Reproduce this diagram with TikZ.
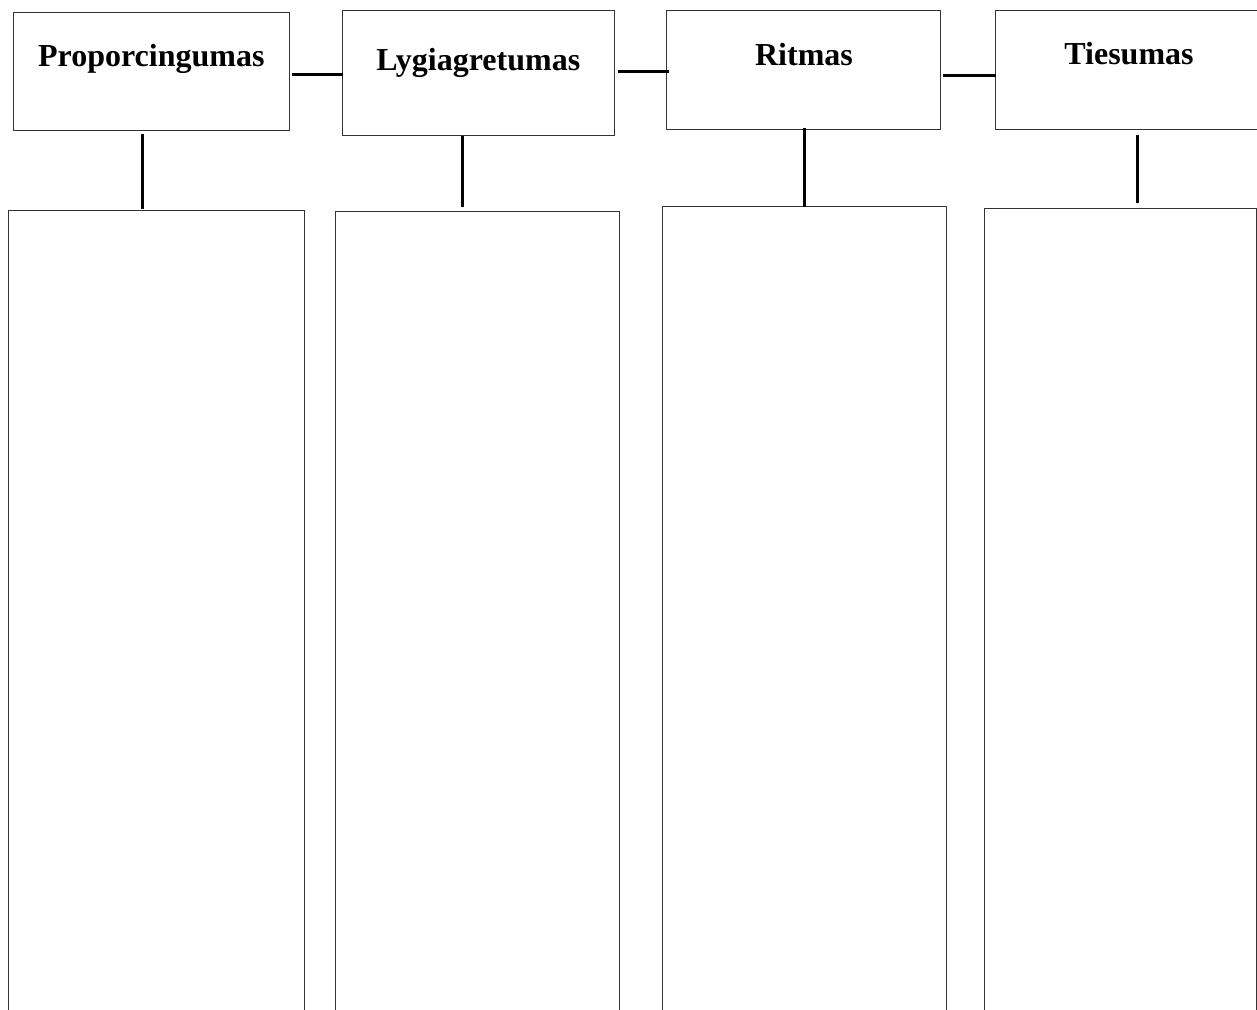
\documentclass[tikz,border=0pt]{standalone}
\usepackage{fontspec}
\setmainfont{Liberation Serif}
\begin{document}
\begin{tikzpicture}[x=1pt, y=-1pt,
  panel/.style={draw=black!80, line width=1pt, inner sep=0pt, outer sep=0pt, fill=white},
  title/.style={anchor=base, inner sep=0pt, font=\fontsize{32}{38}\selectfont\bfseries},
  link/.style={draw=black, line width=3pt}]
  \useasboundingbox (0,0) rectangle (1257,1009);
  \clip (0,0) rectangle (1257,1009);

  % heading boxes
  \node[panel, minimum width=276pt,   minimum height=118.4pt] (b1) at (151.3,71.5) {};
  \node[panel, minimum width=272.3pt, minimum height=125pt]   (b2) at (478.15,73.2) {};
  \node[panel, minimum width=274pt,   minimum height=118.3pt] (b3) at (803.7,69.85) {};
  \node[panel, minimum width=268pt,   minimum height=118.3pt] (b4) at (1129,69.85) {};

  % headings
  \node[title] (t1) at (151.3,66.7) {Proporcingumas};
  \node[title] (t2) at (478.3,70)   {Lygiagretumas};
  \node[title] (t3) at (804,65)     {Ritmas};
  \node[title] (t4) at (1129,64)    {Tiesumas};

  % tall columns below
  \node[panel, minimum width=295.6pt, minimum height=810pt]   (c1) at (156.5,615) {};
  \node[panel, minimum width=283.8pt, minimum height=808.3pt] (c2) at (477.6,615.85) {};
  \node[panel, minimum width=283.5pt, minimum height=813.3pt] (c3) at (804.25,613.35) {};
  \node[panel, minimum width=272pt,   minimum height=811.7pt] (c4) at (1120.5,614.15) {};

  % levels of the horizontal links, columns of the vertical links
  \coordinate (h1) at (0,74);
  \coordinate (h2) at (0,71.7);
  \coordinate (h3) at (0,75);
  \coordinate (v1) at (142.7,0);
  \coordinate (v2) at (462.7,0);
  \coordinate (v3) at (804,0);
  \coordinate (v4) at (1137.3,0);

  % links between heading boxes
  \draw[link, shorten <=2.7pt, shorten >=-0.7pt] (b1.east |- h1) -- (b2.west |- h1);
  \draw[link, shorten <=3.7pt, shorten >=-2.6pt] (b2.east |- h2) -- (b3.west |- h2);
  \draw[link, shorten <=2.6pt, shorten >=-0.7pt] (b3.east |- h3) -- (b4.west |- h3);

  % links from headings down to columns
  \draw[link, shorten <=3.3pt, shorten >=1pt]   (b1.south -| v1) -- (c1.north -| v1);
  \draw[link, shorten <=0pt,   shorten >=5pt]   (b2.south -| v2) -- (c2.north -| v2);
  \draw[link, shorten <=-1.3pt, shorten >=0pt]  (b3.south -| v3) -- (c3.north -| v3);
  \draw[link, shorten <=6pt,   shorten >=5pt]   (b4.south -| v4) -- (c4.north -| v4);
\end{tikzpicture}
\end{document}
